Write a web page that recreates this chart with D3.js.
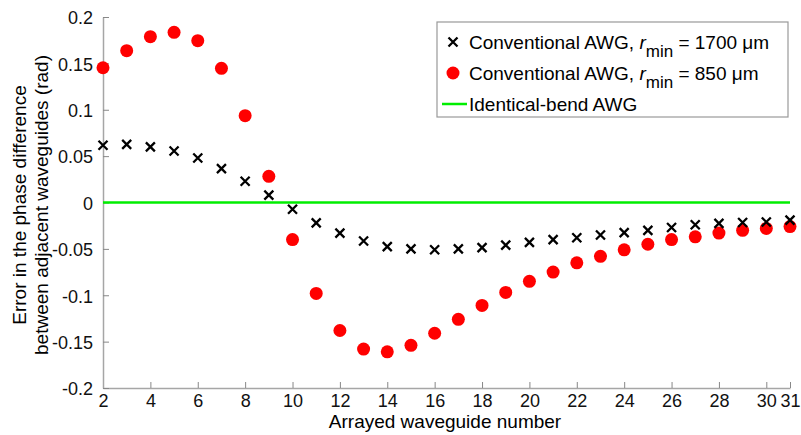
<!DOCTYPE html>
<html>
<head>
<meta charset="utf-8">
<script src="https://cdn.jsdelivr.net/npm/d3@7"></script>
<style>
    body { margin: 0; background: #fff; }
    svg { display: block; font-family: "Liberation Sans", Arial, sans-serif; }
</style>
</head>
<body>
<svg id="chart" width="801" height="435"></svg>
<script>
/* Data */
/* ************************ */
var waveguides = d3.range(2, 32);

// Conventional AWG, r_min = 1700 um  (crosses)
var errR1700 = [0.0617, 0.0627, 0.0600, 0.0555, 0.0480, 0.0365, 0.0229, 0.0080, -0.0073,
    -0.0220, -0.0330, -0.0415, -0.0476, -0.0500, -0.0510, -0.0500, -0.0487, -0.0460,
    -0.0430, -0.0400, -0.0380, -0.0350, -0.0325, -0.0300, -0.0270, -0.0240, -0.0225,
    -0.0215, -0.0210, -0.0190];

// Conventional AWG, r_min = 850 um  (red dots)
var errR850 = [0.1453, 0.1637, 0.1788, 0.1835, 0.1745, 0.1447, 0.0936, 0.0282, -0.0400,
    -0.0980, -0.1380, -0.1580, -0.1610, -0.1540, -0.1410, -0.1260, -0.1110, -0.0970,
    -0.0850, -0.0750, -0.0650, -0.0580, -0.0510, -0.0450, -0.0400, -0.0370, -0.0330,
    -0.0300, -0.0280, -0.0260];

// Identical-bend AWG
var errIdentical = waveguides.map(function () { return 0; });

var xTicks = [2, 4, 6, 8, 10, 12, 14, 16, 18, 20, 22, 24, 26, 28, 30, 31];
var yTicks = [-0.2, -0.15, -0.1, -0.05, 0, 0.05, 0.1, 0.15, 0.2];

var legendLabels = [
    { pre: 'Conventional AWG, ', sym: 'r', sub: 'min', post: ' = 1700 \u03bcm' },
    { pre: 'Conventional AWG, ', sym: 'r', sub: 'min', post: ' = 850 \u03bcm' },
    { pre: 'Identical-bend AWG' }
];


/* Layout */
/* ****** */
var svg = d3.select('#chart');
var plot = { left: 103, right: 790, top: 17, bottom: 388 };
var axisColor = '#a6a6a6';

var x = d3.scaleLinear().domain([2, 31]).range([plot.left, plot.right]);
var y = d3.scaleLinear().domain([-0.2, 0.2]).range([plot.bottom, plot.top]);

// Axes (ticks point inward, no box)
var xAxis = svg.append('g')
    .attr('transform', 'translate(0,' + plot.bottom + ')')
    .call(d3.axisBottom(x).tickValues(xTicks).tickFormat(d3.format('d'))
        .tickSizeInner(-6).tickSizeOuter(0).tickPadding(19));

var yAxis = svg.append('g')
    .attr('transform', 'translate(' + plot.left + ',0)')
    .call(d3.axisLeft(y).tickValues(yTicks).tickFormat(function (d) { return d === 0 ? '0' : String(+d.toFixed(2)); })
        .tickSizeInner(-6).tickSizeOuter(0).tickPadding(10));

[xAxis, yAxis].forEach(function (ax) {
    ax.select('.domain').attr('stroke', axisColor).attr('stroke-width', 1.5);
    ax.selectAll('.tick line').attr('stroke', '#888').attr('stroke-width', 1);
    ax.selectAll('.tick text').attr('fill', '#111').style('font-size', '18px').style('font-family', '"Liberation Sans", Arial, sans-serif');
});
xAxis.selectAll('.tick text').attr('dy', 0);
yAxis.selectAll('.tick text').attr('dy', '0.38em');

// Axis titles
svg.append('text')
    .attr('x', 445).attr('y', 428)
    .attr('text-anchor', 'middle')
    .style('font-size', '19px')
    .text('Arrayed waveguide number');

var yTitle = svg.append('text')
    .attr('transform', 'translate(26,' + 205 + ') rotate(-90)')
    .attr('text-anchor', 'middle')
    .style('font-size', '19px');
yTitle.append('tspan').attr('x', 0).attr('y', 0).text('Error in the phase difference');
yTitle.append('tspan').attr('x', 0).attr('y', 22).text('between adjacent waveguides (rad)');


/* Series */
/* ****** */
svg.append('line')
    .attr('x1', x(2)).attr('x2', x(31))
    .attr('y1', y(errIdentical[0])).attr('y2', y(errIdentical[errIdentical.length - 1]))
    .attr('stroke', '#00ee00').attr('stroke-width', 2.5);

svg.append('g')
    .selectAll('circle')
    .data(waveguides)
    .enter()
    .append('circle')
    .attr('cx', function (d) { return x(d); })
    .attr('cy', function (d, i) { return y(errR850[i]); })
    .attr('r', 6.5)
    .attr('fill', '#ff0000');

var crossPath = 'M-4.5,-4.5L4.5,4.5M-4.5,4.5L4.5,-4.5';
svg.append('g')
    .selectAll('path')
    .data(waveguides)
    .enter()
    .append('path')
    .attr('transform', function (d, i) { return 'translate(' + x(d) + ',' + y(errR1700[i]) + ')'; })
    .attr('d', crossPath)
    .attr('stroke', '#000').attr('stroke-width', 2.3).attr('fill', 'none');


/* Legend */
/* ****** */
var legend = svg.append('g').attr('transform', 'translate(437,22)');
legend.append('rect')
    .attr('width', 351).attr('height', 95)
    .attr('fill', '#fff').attr('stroke', '#999').attr('stroke-width', 1.2);

var rowY = [20, 51, 82];
legendLabels.forEach(function (lab, i) {
    var g = legend.append('g').attr('transform', 'translate(0,' + rowY[i] + ')');
    if (i === 0) {
        g.append('path').attr('transform', 'translate(16,0)').attr('d', crossPath)
            .attr('stroke', '#000').attr('stroke-width', 2.3).attr('fill', 'none');
    } else if (i === 1) {
        g.append('circle').attr('cx', 16).attr('cy', 0).attr('r', 6.5).attr('fill', '#ff0000');
    } else {
        g.append('line').attr('x1', 5).attr('x2', 30).attr('stroke', '#00ee00').attr('stroke-width', 2.5);
    }
    var t = g.append('text').attr('x', 32).attr('y', 0).attr('dy', '0.35em').style('font-size', '19px');
    t.append('tspan').text(lab.pre);
    if (lab.sym) {
        t.append('tspan').style('font-style', 'italic').text(lab.sym);
        t.append('tspan').attr('dy', 8).style('font-size', '17px').text(lab.sub);
        t.append('tspan').attr('dy', -8).text(lab.post);
    }
});
</script>
</body>
</html>
